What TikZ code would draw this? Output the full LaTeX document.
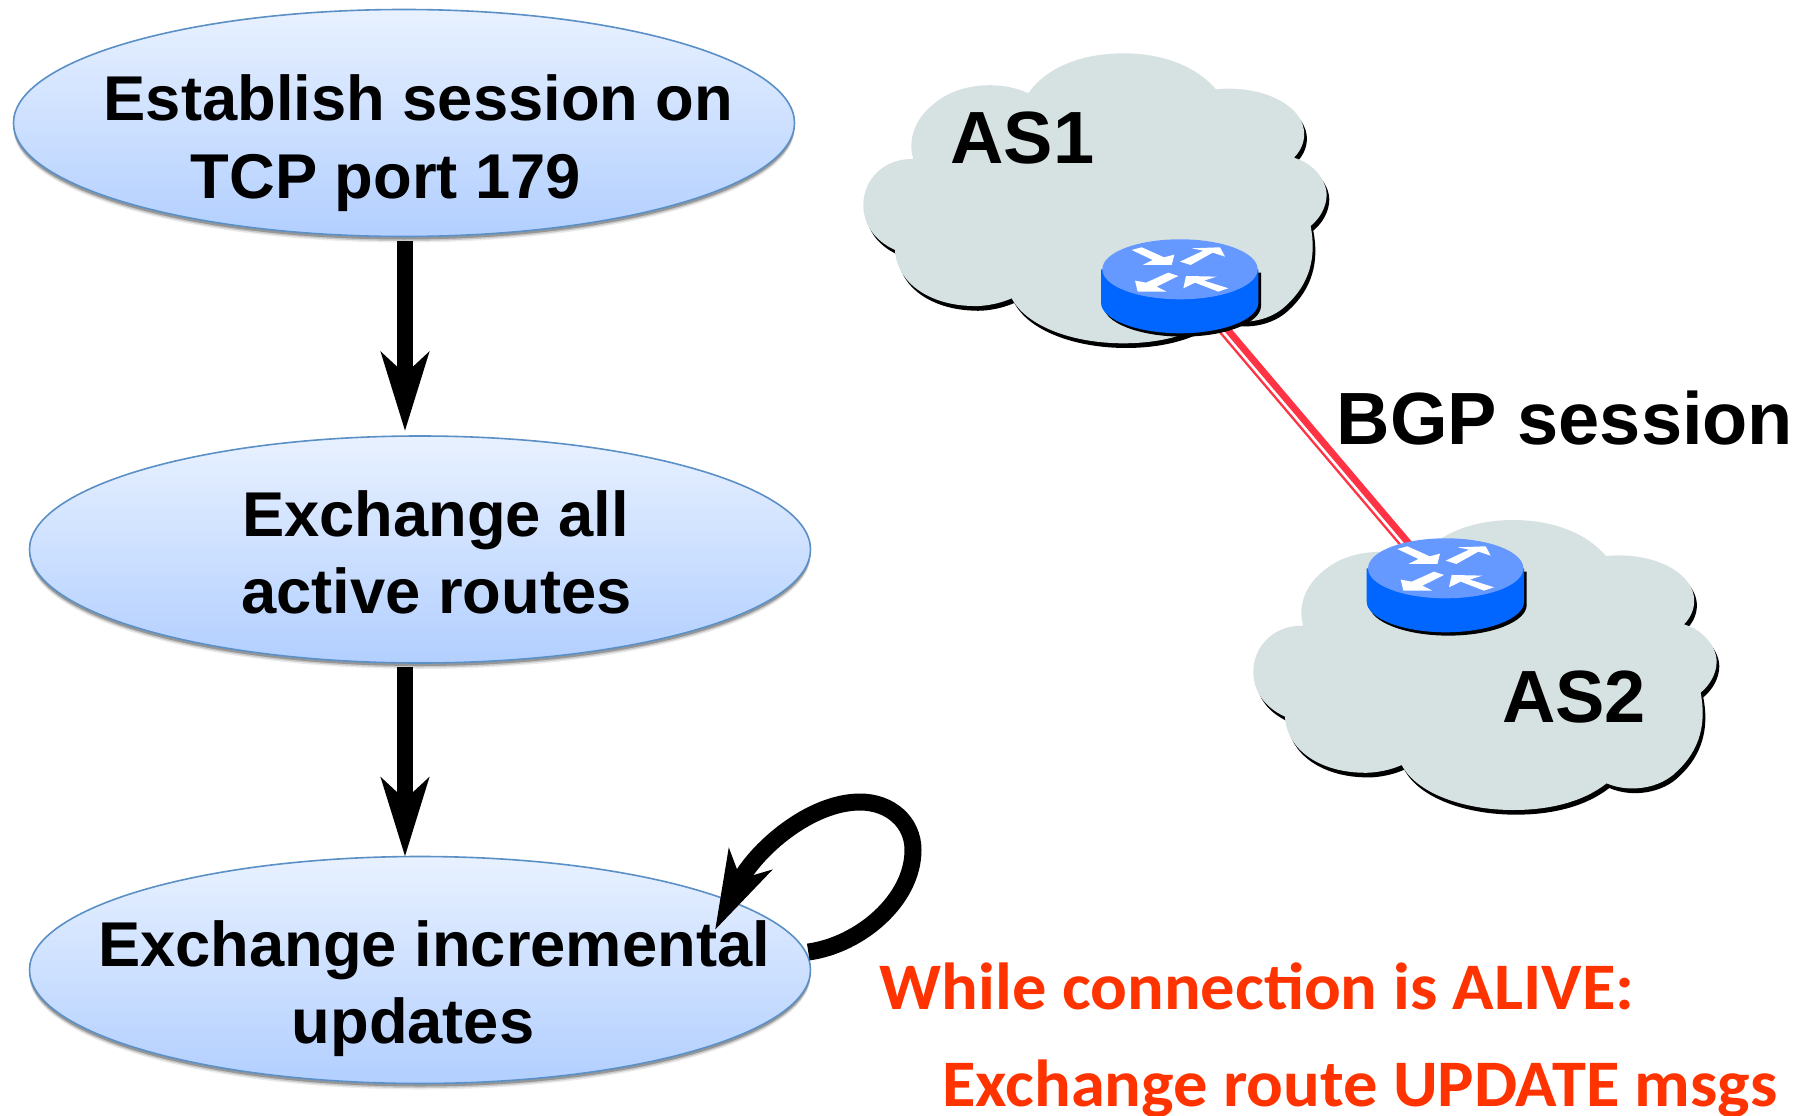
\documentclass[tikz,border=0pt]{standalone}
\usepackage{fontspec}
\setmainfont{Liberation Sans}
\newfontfamily\redfont[FakeStretch=1.03]{Carlito}
\usetikzlibrary{arrows.meta,shapes.geometric,shadows,calc}
\definecolor{cloudfill}{HTML}{D6E2E2}
\definecolor{routertop}{HTML}{6699FF}
\definecolor{routerside}{HTML}{0066FF}
\definecolor{linkred}{HTML}{FF3344}
\definecolor{notered}{HTML}{FF3300}
\definecolor{ovalline}{HTML}{5B90C6}
\definecolor{ovaltop}{HTML}{E8F1FF}
\definecolor{ovalbot}{HTML}{B2CFFF}
\tikzset{
  flowstate/.style={ellipse,inner sep=0pt,minimum width=781pt,minimum height=227pt,
    draw=ovalline,line width=1.6pt,top color=ovaltop,bottom color=ovalbot,
    drop shadow={shadow xshift=0pt,shadow yshift=-6pt,opacity=.08,fill=black},
    drop shadow={shadow xshift=0pt,shadow yshift=-4.5pt,opacity=.14,fill=black},
    drop shadow={shadow xshift=0pt,shadow yshift=-3pt,opacity=.25,fill=black}},
  flowtext/.style={anchor=base,inner sep=0pt,font=\fontsize{63.3}{63.3}\selectfont\bfseries},
  astext/.style={anchor=base,inner sep=0pt,font=\fontsize{74}{74}\selectfont\bfseries},
  notetext/.style={anchor=base,inner sep=0pt,text=notered,font=\fontsize{66.5}{66.5}\selectfont\redfont\bfseries},
  flowarrow/.style={line width=16pt,-{Stealth[length=78pt,width=47pt,inset=21pt]}}
}
\newcommand{\cloudoutline}{(565,190) .. controls (620,110) and (730,70) .. (850,70)
  .. controls (970,70) and (1070,110) .. (1128,178)
  .. controls (1260,165) and (1380,220) .. (1392,300)
  .. controls (1396,330) and (1385,360) .. (1362,383)
  .. controls (1420,400) and (1460,450) .. (1460,495)
  .. controls (1460,530) and (1440,565) .. (1412,588)
  .. controls (1430,680) and (1410,760) .. (1340,825)
  .. controls (1290,875) and (1200,890) .. (1130,860)
  .. controls (1060,915) and (960,940) .. (850,940)
  .. controls (700,940) and (560,890) .. (515,805)
  .. controls (470,825) and (420,830) .. (395,828)
  .. controls (270,825) and (170,760) .. (165,660)
  .. controls (100,630) and (70,580) .. (70,525)
  .. controls (70,450) and (130,385) .. (220,387)
  .. controls (205,340) and (215,270) .. (290,215)
  .. controls (360,160) and (480,150) .. (565,190) -- cycle}
\newcommand{\drawcloud}[2]{\begin{scope}[shift={(#1,#2)},x=0.3333pt,y=-0.3333pt]
  \begin{scope}[shift={(8,14)}]\fill[black] \cloudoutline;\end{scope}
  \fill[cloudfill] \cloudoutline;
\end{scope}}
\newcommand{\routerbody}{(-237,0) -- (-237,100) .. controls (-237,150) and (-130,192) .. (0,192)
  .. controls (130,192) and (235,150) .. (235,100) -- (235,0) -- cycle}
\newcommand{\drawrouter}[2]{\begin{scope}[shift={(#1,#2)},x=0.3333pt,y=-0.3333pt]
  \begin{scope}[shift={(8,10)}]\fill[black] \routerbody;\end{scope}
  \fill[routerside] \routerbody;
  \fill[routertop] (-233,0) .. controls (-233,-50) and (-130,-90) .. (0,-90)
    .. controls (130,-90) and (233,-50) .. (233,0)
    .. controls (233,50) and (130,90) .. (0,90)
    .. controls (-130,90) and (-233,50) .. (-233,0) -- cycle;
  \fill[white] (-145,-58) -- (-115,-66) -- (-48,-36) -- (-17,-44) -- (-25,-13) -- (-112,-13) -- (-82,-28) -- cycle;
  \fill[white] (0,-23) -- (70,-56) -- (35,-63) -- (120,-66) -- (135,-38) -- (98,-50) -- (32,-13) -- cycle;
  \fill[white] (-5,20) -- (-35,10) -- (-102,40) -- (-135,34) -- (-127,67) -- (-40,67) -- (-70,52) -- cycle;
  \fill[white] (145,57) -- (115,67) -- (45,40) -- (10,57) -- (18,20) -- (110,22) -- (72,34) -- cycle;
\end{scope}}
\begin{document}
\begin{tikzpicture}[x=1pt,y=-1pt]
\useasboundingbox (0,0) rectangle (1810,1116);
\clip (0,0) rectangle (1810,1116);
\fill[white] (0,0) rectangle (1810,1116);

% network side
\drawcloud{840}{30}
\drawcloud{1230}{496.7}
\coordinate (linkA) at (1216,320);
\coordinate (linkB) at (1415.3,555);
\draw[linkred,line width=12pt] (linkA) -- (linkB);
\draw[white,line width=2.6pt] ([xshift=-1.7pt,yshift=-1.5pt]linkA) -- ([xshift=-1.7pt,yshift=-1.5pt]linkB);
\drawrouter{1180}{269.3}
\drawrouter{1445.7}{568.3}
\node[astext] (as1) at (1022.5,163) {AS1};
\node[astext] (as2) at (1574,722) {AS2};
\node[astext] (bgp) at (1565,444) {BGP session};

% flow side
\node[flowstate] (stateA) at (404,123) {};
\node[flowstate] (stateB) at (420,549.5) {};
\node[flowstate] (stateC) at (420,970) {};
\node[flowtext] (ta1) at (418.5,121) {Establish session on};
\node[flowtext] (ta2) at (386,198.5) {TCP port 179};
\node[flowtext] (tb1) at (435.5,536) {Exchange all};
\node[flowtext] (tb2) at (436.5,613) {active routes};
\node[flowtext] (tc1) at (434,966.5) {Exchange incremental};
\node[flowtext] (tc2) at (413,1043) {updates};
\draw[flowarrow] ([xshift=1pt,yshift=-4pt]stateA.south) -- ([xshift=-15pt,yshift=4pt]stateB.north);
\draw[flowarrow] ([xshift=-15pt,yshift=-3pt]stateB.south) -- ([xshift=-15pt,yshift=-1pt]stateC.north);
\coordinate (loopStart) at ([xshift=-3pt,yshift=18pt]stateC.east);
\coordinate (loopTip) at (715,930);
\draw[flowarrow,line width=17pt] (loopStart) .. controls (860,945) and (913,900) .. (913,850)
  .. controls (913,822) and (890,802) .. (860,802)
  .. controls (810,802) and (755,850) .. (loopTip);

% note
\node[notetext] (n1) at (1257,1009) {While connection is ALIVE:};
\node[notetext] (n2) at (1360,1106) {Exchange route UPDATE msgs};
\end{tikzpicture}
\end{document}
